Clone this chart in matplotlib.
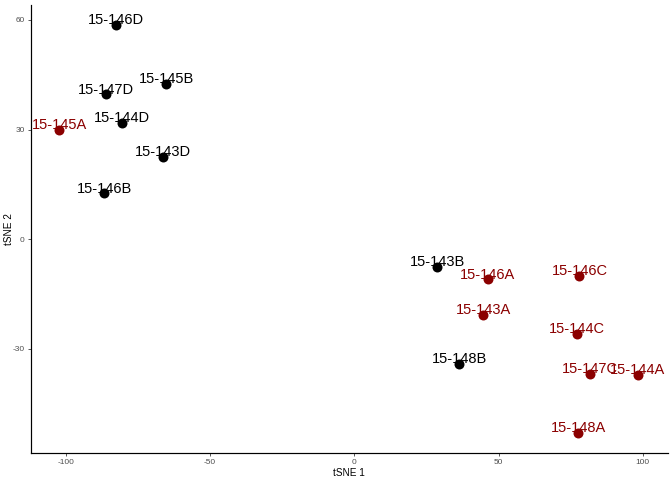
import matplotlib
matplotlib.use("Agg")
import matplotlib.pyplot as plt

labels = ["15-146D", "15-145B", "15-147D", "15-144D", "15-145A", "15-143D", "15-146B",
          "15-143B", "15-146A", "15-146C", "15-143A", "15-144C", "15-148B", "15-147C",
          "15-144A", "15-148A"]
tsne1 = [-82.6, -65.3, -86.0, -80.5, -102.3, -66.2, -86.7,
         28.8, 46.2, 78.0, 44.7, 77.1, 36.4, 81.7, 98.3, 77.6]
tsne2 = [58.6, 42.5, 39.6, 31.9, 29.9, 22.5, 12.5,
         -7.6, -11.0, -10.1, -20.8, -25.9, -34.2, -36.9, -37.1, -53.1]
group = ["other", "other", "other", "other", "A", "other", "other",
         "other", "A", "C", "A", "C", "other", "C", "A", "A"]

colors = {"other": "#000000", "A": "#8B0000", "C": "#8B0000"}

plt.rcParams['font.family'] = ['Liberation Sans', 'DejaVu Sans']
plt.rcParams['axes.unicode_minus'] = False
fig = plt.figure(figsize=(7, 5), dpi=96)
ax = fig.add_axes([0.0457, 0.0569, 0.9483, 0.9327])

for lab, x, y, g in zip(labels, tsne1, tsne2, group):
    c = colors[g]
    ax.scatter([x], [y], s=56, color=c, zorder=3, linewidths=0)
    ax.annotate(lab, (x, y), xytext=(0, 3.5), textcoords='offset points',
                ha='center', va='center', fontsize=11, color=c, zorder=4)

ax.set_xlim(-112.2, 108.7)
ax.set_ylim(-58.5, 64.1)
ax.set_xticks([-100, -50, 0, 50, 100])
ax.set_yticks([-30, 0, 30, 60])
ax.tick_params(axis='both', labelsize=6.2, labelcolor='#4D4D4D', color='#333333',
               length=2.5, width=0.6, pad=2)
for s in ['top', 'right']:
    ax.spines[s].set_visible(False)
for s in ['left', 'bottom']:
    ax.spines[s].set_linewidth(0.9)
    ax.spines[s].set_color('black')
ax.set_xlabel('tSNE 1', fontsize=7.5, labelpad=2)
ax.set_ylabel('tSNE 2', fontsize=7.5)
ax.yaxis.set_label_coords(-0.027, 0.5)

fig.savefig('out.png', dpi=96)
